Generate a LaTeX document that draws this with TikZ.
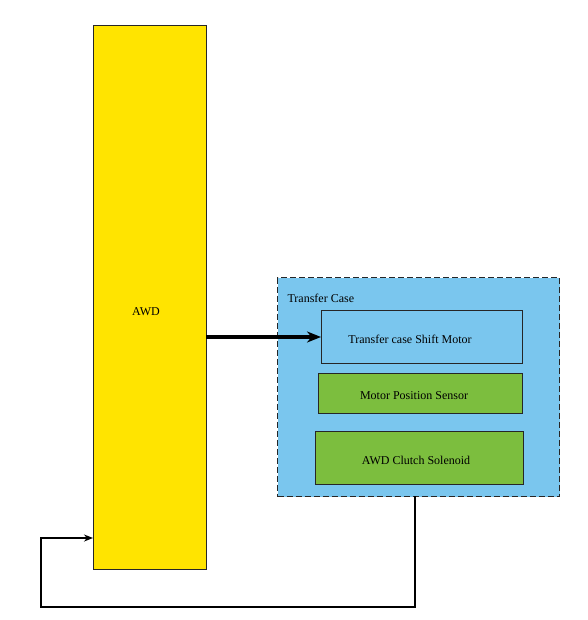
\documentclass[tikz,border=0pt]{standalone}
\usepackage{fontspec}
\setmainfont{Liberation Serif}
\usetikzlibrary{arrows.meta}
\definecolor{awdyellow}{RGB}{255,228,0}
\definecolor{tcblue}{RGB}{122,198,238}
\definecolor{tcgreen}{RGB}{124,190,62}
\begin{document}
\begin{tikzpicture}[x=1pt,y=-1pt,
  txt/.style={font=\fontsize{12}{14}\selectfont},
  box/.style={draw=black!85,line width=1.2pt,inner sep=0pt,txt},
]
\useasboundingbox (0,0) rectangle (587,620);
% Transfer Case container
\node[draw=black!85,dash pattern=on 6pt off 3pt,line width=1.2pt,fill=tcblue,minimum width=282pt,minimum height=219pt,inner sep=0pt,anchor=north west] (tc) at (277,277) {};
\node[txt,anchor=west] (tclabel) at (284,298) {Transfer Case};
% AWD
\node[box,fill=awdyellow,minimum width=113pt,minimum height=544pt,anchor=north west] (awd) at (93,25) {};
\node[txt] (awdlabel) at (146,312) {AWD};
% inner boxes
\node[box,fill=tcblue,minimum width=201pt,minimum height=53pt,anchor=north west] (motor) at (321,310) {};
\node[txt] (motorlabel) at (410,339) {Transfer case Shift Motor};
\node[box,fill=tcgreen,minimum width=204pt,minimum height=40pt,anchor=north west] (sensor) at (318,373) {};
\node[txt] (sensorlabel) at (414,396) {Motor Position Sensor};
\node[box,fill=tcgreen,minimum width=208pt,minimum height=53pt,anchor=north west] (sol) at (315,431) {};
\node[txt] (sollabel) at (416,460) {AWD Clutch Solenoid};
% connectors
\coordinate (a1) at (206,337);
\draw[line width=4pt,-{Stealth[length=14pt,width=11pt]}] (a1) -- (motor.west |- a1);
\coordinate (f0) at (415,496);
\coordinate (f1) at (415,607);
\coordinate (f2) at (41,607);
\coordinate (f3) at (41,538);
\draw[line width=2pt,-{Stealth[length=9pt,width=7pt]}] (f0) -- (f1) -- (f2) -- (f3) -- (awd.west |- f3);
\end{tikzpicture}
\end{document}
